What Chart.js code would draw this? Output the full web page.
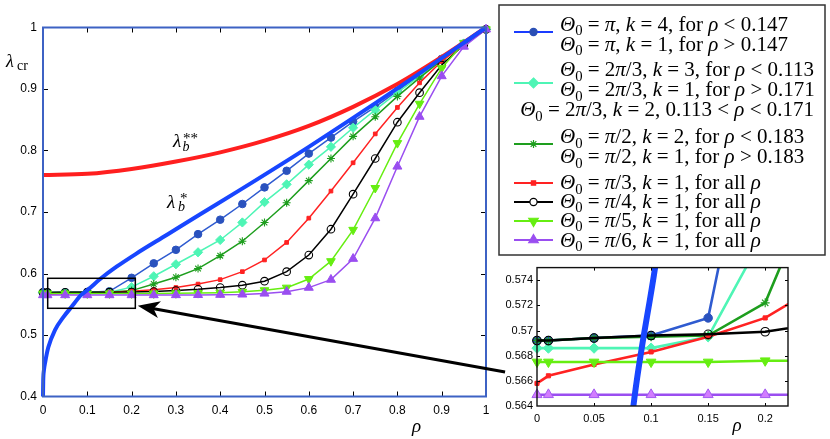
<!DOCTYPE html>
<html>
<head>
<meta charset="utf-8">
<script src="https://cdn.jsdelivr.net/npm/chart.js@4.4.1/dist/chart.umd.min.js"></script>
<style>
html,body{margin:0;padding:0;background:#fff;overflow:hidden;}
#wrap{position:relative;width:830px;height:439px;background:#fff;}
#main{position:absolute;left:0;top:0;}
#inset{position:absolute;left:495px;top:257px;}
</style>
</head>
<body>
<div id="wrap">
<canvas id="main" width="830" height="439" style="width:830px;height:439px"></canvas>
<canvas id="inset" width="335" height="182" style="width:335px;height:182px"></canvas>
</div>
<script>
// ---------------- data ----------------
const rho = [0,0.01,0.05,0.1,0.15,0.2,0.25,0.3,0.35,0.4,0.45,0.5,0.55,0.6,0.65,0.7,0.75,0.8,0.85,0.9,0.95,1.0];
const thetaPi   = [0.5692,0.5692,0.5694,0.5696,0.5710,0.5930,0.6165,0.6385,0.6640,0.6875,0.7130,0.7400,0.7670,0.7950,0.8210,0.8470,0.8710,0.8970,0.9230,0.9490,0.9740,0.9970];
const theta2Pi3 = [0.5686,0.5686,0.5686,0.5686,0.5695,0.5778,0.5955,0.6150,0.6345,0.6545,0.6830,0.7160,0.7450,0.7770,0.8060,0.8370,0.8660,0.8940,0.9210,0.9480,0.9740,0.9970];
const thetaPi2  = [0.5692,0.5692,0.5694,0.5695,0.5696,0.5722,0.5830,0.5940,0.6080,0.6290,0.6525,0.6830,0.7150,0.7510,0.7870,0.8230,0.8550,0.8880,0.9180,0.9470,0.9740,0.9970];
const thetaPi3  = [0.5658,0.5664,0.5673,0.5683,0.5695,0.5710,0.5737,0.5772,0.5828,0.5900,0.6030,0.6220,0.6505,0.6900,0.7340,0.7800,0.8270,0.8700,0.9100,0.9450,0.9730,0.9970];
const thetaPi4  = [0.5692,0.5692,0.5694,0.5696,0.5697,0.5699,0.5706,0.5722,0.5743,0.5772,0.5810,0.5875,0.6030,0.6300,0.6720,0.7290,0.7870,0.8460,0.8940,0.9390,0.9720,0.9970];
const thetaPi5  = [0.5675,0.5675,0.5675,0.5675,0.5675,0.5676,0.5676,0.5678,0.5681,0.5688,0.5702,0.5728,0.5770,0.5910,0.6200,0.6710,0.7390,0.8120,0.8760,0.9340,0.9750,0.9970];
const thetaPi6  = [0.5649,0.5649,0.5649,0.5649,0.5649,0.5649,0.5649,0.5650,0.5652,0.5655,0.5660,0.5675,0.5705,0.5770,0.5900,0.6240,0.6900,0.7740,0.8550,0.9210,0.9690,0.9970];

const lamStarRho = [0,0.0005,0.002,0.005,0.012,0.027,0.046,0.068,0.0845,0.1035,0.129,0.166,0.21,0.28,0.354,0.445,0.6,0.8,1.0];
const lamStar    = [0.400,0.425,0.442,0.456,0.480,0.508,0.529,0.549,0.564,0.575,0.591,0.611,0.632,0.663,0.696,0.736,0.806,0.901,1.000];
const lamStar2Rho = [0,0.1,0.2,0.3,0.4,0.5,0.6,0.7,0.8,0.9,1.0];
const lamStar2    = [0.760,0.762,0.770,0.782,0.797,0.816,0.840,0.871,0.908,0.952,1.000];

const xTicks = [0,0.1,0.2,0.3,0.4,0.5,0.6,0.7,0.8,0.9,1];
const xTickLabels = ['0','0.1','0.2','0.3','0.4','0.5','0.6','0.7','0.8','0.9','1'];
const yTicks = [0.4,0.5,0.6,0.7,0.8,0.9,1];
const yTickLabels = ['0.4','0.5','0.6','0.7','0.8','0.9','1'];
const inXTicks = [0,0.05,0.1,0.15,0.2];
const inXTickLabels = ['0','0.05','0.1','0.15','0.2'];
const inYTicks = [0.564,0.566,0.568,0.570,0.572,0.574];
const inYTickLabels = ['0.564','0.566','0.568','0.57','0.572','0.574'];

const legendText = [
  ['Θ_0 = π, k = 4, for ρ < 0.147', 'Θ_0 = π, k = 1, for ρ > 0.147'],
  ['Θ_0 = 2π/3, k = 3, for ρ < 0.113', 'Θ_0 = 2π/3, k = 1, for ρ > 0.171', 'Θ_0 = 2π/3, k = 2, 0.113 < ρ < 0.171'],
  ['Θ_0 = π/2, k = 2, for ρ < 0.183', 'Θ_0 = π/2, k = 1, for ρ > 0.183'],
  ['Θ_0 = π/3, k = 1, for all ρ'],
  ['Θ_0 = π/4, k = 1, for all ρ'],
  ['Θ_0 = π/5, k = 1, for all ρ'],
  ['Θ_0 = π/6, k = 1, for all ρ']
];

// ---------------- styles ----------------
const SANS = '"Liberation Sans", Arial, Helvetica, sans-serif';
const SERIF = '"Liberation Serif", "Times New Roman", serif';
const C = {
  pi:'#2f5bd0', piPt:'#2a52be', cyan:'#4ef5b5', green:'#1e9e1e', red:'#ff2222',
  black:'#000000', lime:'#66ee11', purple:'#9a4ef0', thickBlue:'#1846ff', thickRed:'#ff1f1f'
};
const styleDefs = [
  {key:'pi', ys:thetaPi, color:C.pi, pt:C.piPt, ps:'circle', r:3.8, rot:0, fill:C.piPt},
  {key:'c', ys:theta2Pi3, color:C.cyan, pt:C.cyan, ps:'rectRot', r:4.6, rot:0, fill:C.cyan},
  {key:'g', ys:thetaPi2, color:C.green, pt:C.green, ps:'star', r:4, rot:0, fill:C.green},
  {key:'r', ys:thetaPi3, color:C.red, pt:C.red, ps:'rect', r:2.6, rot:0, fill:C.red},
  {key:'k', ys:thetaPi4, color:C.black, pt:C.black, ps:'circle', r:3.8, rot:0, fill:'rgba(0,0,0,0)'},
  {key:'l', ys:thetaPi5, color:C.lime, pt:C.lime, ps:'triangle', r:5, rot:180, fill:C.lime},
  {key:'p', ys:thetaPi6, color:C.purple, pt:C.purple, ps:'triangle', r:5.2, rot:0, fill:C.purple}
];

function pts(xs, ys){ return xs.map((x,i)=>({x:x, y:ys[i]})); }

function buildDatasets(inset){
  const ds = [];
  ds.push({data:pts(lamStarRho, lamStar), borderColor:C.thickBlue, borderWidth: inset?6:4, pointRadius:0,
    cubicInterpolationMode:'monotone', fill:false, order:0, clip: inset?0:false});
  ds.push({data:pts(lamStar2Rho, lamStar2), borderColor:C.thickRed, borderWidth: inset?6:4, pointRadius:0,
    cubicInterpolationMode:'monotone', fill:false, order:1, clip: inset?0:false});
  const n = styleDefs.length;
  styleDefs.forEach((s, i)=>{
    let fill = s.fill, border = s.pt;
    if (inset && s.key==='p') { fill = '#d27cff'; border = '#a35cf0'; }
    ds.push({
      data: pts(rho, s.ys), borderColor: s.color, borderWidth: inset?2.6:1.5, tension:0, fill:false,
      pointStyle: s.ps, pointRadius: inset ? s.r*1.12 : s.r, pointRotation: s.rot,
      pointBackgroundColor: fill, pointBorderColor: border,
      pointBorderWidth: (s.key==='k'||s.key==='g') ? 1.1 : 1,
      pointHoverRadius: 0, order: 2 + (n-1-i),
      clip: inset ? {left:8, top:0, right:0, bottom:8} : false
    });
  });
  return ds;
}

// ---------------- rich text helpers ----------------
function fontFor(st, size){
  if (st==='n') return size+'px '+SERIF;
  if (st==='i') return 'italic '+size+'px '+SERIF;
  if (st==='sub'||st==='sup') return (size*0.7).toFixed(2)+'px '+SERIF;
  if (st==='isub'||st==='isup') return 'italic '+(size*0.7).toFixed(2)+'px '+SERIF;
  return size+'px '+SERIF;
}
function dyFor(st, size){
  if (st==='sub'||st==='isub') return size*0.22;
  if (st==='sup'||st==='isup') return -size*0.38;
  return 0;
}
const ITAL = 'Θπkρλb';
function parseMath(str){
  const segs = [];
  for (let i=0;i<str.length;i++){
    let ch = str[i], st = 'n';
    if (ch==='_'){ ch = str[++i]; st = ITAL.includes(ch)?'isub':'sub'; }
    else if (ch==='^'){ ch = str[++i]; st = ITAL.includes(ch)?'isup':'sup'; }
    else if (ITAL.includes(ch)) st = 'i';
    const last = segs[segs.length-1];
    if (last && last.st===st) last.t += ch; else segs.push({t:ch, st:st});
  }
  return segs;
}
function richWidth(ctx, str, size){
  let w = 0;
  for (const s of parseMath(str)){ ctx.font = fontFor(s.st,size); w += ctx.measureText(s.t).width; }
  return w;
}
function drawRich(ctx, str, x, y, size, align){
  const segs = parseMath(str);
  const w = richWidth(ctx, str, size);
  let cx = align==='right' ? x-w : (align==='center' ? x-w/2 : x);
  ctx.textAlign = 'left'; ctx.textBaseline = 'alphabetic';
  for (const s of segs){
    ctx.font = fontFor(s.st,size);
    ctx.fillText(s.t, cx, y + dyFor(s.st,size));
    cx += ctx.measureText(s.t).width;
  }
}
function drawMarker(ctx, ps, x, y, r, fill, stroke, lw, rot){
  ctx.save();
  ctx.translate(x,y);
  ctx.rotate((rot||0)*Math.PI/180);
  ctx.beginPath();
  if (ps==='circle'){ ctx.arc(0,0,r,0,Math.PI*2); }
  else if (ps==='rect'){ const s=r*Math.SQRT1_2; ctx.rect(-s,-s,2*s,2*s); }
  else if (ps==='rectRot'){ ctx.moveTo(0,-r); ctx.lineTo(r,0); ctx.lineTo(0,r); ctx.lineTo(-r,0); ctx.closePath(); }
  else if (ps==='triangle'){ for(let k=0;k<3;k++){ const a=k*2*Math.PI/3; const px=Math.sin(a)*r, py=-Math.cos(a)*r; if(k===0) ctx.moveTo(px,py); else ctx.lineTo(px,py);} ctx.closePath(); }
  else if (ps==='star'){ for(let k=0;k<4;k++){ const a=k*Math.PI/4; ctx.moveTo(Math.cos(a)*r,Math.sin(a)*r); ctx.lineTo(-Math.cos(a)*r,-Math.sin(a)*r);} }
  if (ps!=='star'){ ctx.fillStyle=fill; ctx.fill(); }
  ctx.strokeStyle=stroke; ctx.lineWidth=lw; ctx.stroke();
  ctx.restore();
}

// ---------------- annotation positions (data coordinates) ----------------
const zoomBox = {x0:0.0106, x1:0.2084, y0:0.5434, y1:0.5922};
const arrowTip = {x:0.214, y:0.5475};
const arrowTail = {x:1.043, y:0.4398};

const mainDecor = {
  id:'mainDecor',
  afterDraw(chart){
    const ctx = chart.ctx, a = chart.chartArea, xs = chart.scales.x, ys = chart.scales.y;
    ctx.save();
    // inward ticks
    ctx.strokeStyle = '#000'; ctx.lineWidth = 1;
    ctx.beginPath();
    xTicks.forEach(v=>{
      if (v<=0 || v>=1) return;
      const px = Math.round(xs.getPixelForValue(v))+0.5;
      ctx.moveTo(px, a.bottom); ctx.lineTo(px, a.bottom-5);
      ctx.moveTo(px, a.top); ctx.lineTo(px, a.top+5);
    });
    yTicks.forEach(v=>{
      if (v<=0.4 || v>=1) return;
      const py = Math.round(ys.getPixelForValue(v))+0.5;
      ctx.moveTo(a.left, py); ctx.lineTo(a.left+5, py);
      ctx.moveTo(a.right, py); ctx.lineTo(a.right-5, py);
    });
    ctx.stroke();
    // frame
    ctx.strokeStyle = '#3d62c4'; ctx.lineWidth = 2;
    ctx.strokeRect(a.left, a.top, a.right-a.left, a.bottom-a.top);

    // zoom box
    const bx0 = xs.getPixelForValue(zoomBox.x0), bx1 = xs.getPixelForValue(zoomBox.x1);
    const by0 = ys.getPixelForValue(zoomBox.y1), by1 = ys.getPixelForValue(zoomBox.y0);
    ctx.strokeStyle = '#000'; ctx.lineWidth = 1.5;
    ctx.strokeRect(bx0, by0, bx1-bx0, by1-by0);

    // arrow
    const tx = xs.getPixelForValue(arrowTip.x), ty = ys.getPixelForValue(arrowTip.y);
    const sx = xs.getPixelForValue(arrowTail.x), sy = ys.getPixelForValue(arrowTail.y);
    const dx = tx-sx, dy = ty-sy, len = Math.hypot(dx,dy);
    const ux = dx/len, uy = dy/len, nx = -uy, ny = ux;
    const L = 22, W = 8.5, notch = 6;
    ctx.strokeStyle = '#000'; ctx.lineWidth = 3.2; ctx.lineCap='butt';
    ctx.beginPath(); ctx.moveTo(sx,sy); ctx.lineTo(tx-ux*(L-notch-1), ty-uy*(L-notch-1)); ctx.stroke();
    ctx.fillStyle = '#000';
    ctx.beginPath();
    ctx.moveTo(tx,ty);
    ctx.lineTo(tx-ux*L+nx*W, ty-uy*L+ny*W);
    ctx.lineTo(tx-ux*(L-notch), ty-uy*(L-notch));
    ctx.lineTo(tx-ux*L-nx*W, ty-uy*L-ny*W);
    ctx.closePath(); ctx.fill();

    // curve labels
    ctx.fillStyle = '#000'; ctx.textAlign='left'; ctx.textBaseline='alphabetic';
    const l2x = xs.getPixelForValue(0.2935), l2y = ys.getPixelForValue(0.8057);
    ctx.font = 'italic 19px '+SERIF; ctx.fillText('λ', l2x, l2y);
    ctx.font = 'italic 14px '+SERIF; ctx.fillText('b', l2x+9.5, l2y+4);
    ctx.font = '15px '+SERIF; ctx.fillText('**', l2x+10, l2y-3.5);
    const l1x = xs.getPixelForValue(0.280), l1y = ys.getPixelForValue(0.7068);
    ctx.font = 'italic 19px '+SERIF; ctx.fillText('λ', l1x, l1y);
    ctx.font = 'italic 14px '+SERIF; ctx.fillText('b', l1x+11, l1y+3.5);
    ctx.font = '15px '+SERIF; ctx.fillText('*', l1x+13, l1y-5);

    // axis labels
    ctx.font = 'italic 18px '+SERIF; ctx.fillText('λ', 6, 67);
    ctx.font = '14px '+SERIF; ctx.fillText('cr', 17, 70);
    ctx.font = 'italic 19px '+SERIF; ctx.textAlign='center';
    ctx.fillText('ρ', (a.left+a.right)/2 + 152, 432);
    ctx.textAlign='left';

    // legend
    const LB = {x:499, y:5, w:326, h:250};
    ctx.fillStyle = '#fff'; ctx.fillRect(LB.x, LB.y, LB.w, LB.h);
    ctx.strokeStyle = '#333'; ctx.lineWidth = 1.5; ctx.strokeRect(LB.x, LB.y, LB.w, LB.h);
    let size = 19;
    const wRef = richWidth(ctx, legendText[1][0], size);
    size = Math.max(15, Math.min(21, size*258/wRef));
    const sampleY = [32, 83, 144, 183, 202, 221, 240];
    const baselines = [[30.7,50.7],[76,96,116],[143,163],[189.3],[207.7],[226.7],[246.7]];
    const textX = 560;
    const legendStyles = [
      {line:'#1a3cff', ps:'circle', r:3.6, fill:'#2a4fb5', stroke:'#2a4fb5', rot:0},
      {line:C.cyan, ps:'rectRot', r:5, fill:C.cyan, stroke:C.cyan, rot:0},
      {line:C.green, ps:'star', r:4, fill:C.green, stroke:C.green, rot:0},
      {line:C.red, ps:'rect', r:3, fill:C.red, stroke:C.red, rot:0},
      {line:'#000', ps:'circle', r:3.6, fill:'#fff', stroke:'#000', rot:0},
      {line:C.lime, ps:'triangle', r:5.5, fill:C.lime, stroke:C.lime, rot:180},
      {line:C.purple, ps:'triangle', r:5.5, fill:C.purple, stroke:C.purple, rot:0}
    ];
    legendText.forEach((lines, e)=>{
      const st = legendStyles[e];
      ctx.strokeStyle = st.line; ctx.lineWidth = 2;
      ctx.beginPath(); ctx.moveTo(514, sampleY[e]); ctx.lineTo(553, sampleY[e]); ctx.stroke();
      drawMarker(ctx, st.ps, 533.5, sampleY[e], st.r, st.fill, st.stroke, 1.2, st.rot);
      ctx.fillStyle = '#000';
      lines.forEach((t, j)=>{
        if (e===1 && j===2){
          const endX = textX + richWidth(ctx, lines[0], size);
          drawRich(ctx, t, endX, baselines[e][j], size, 'right');
        } else {
          drawRich(ctx, t, textX, baselines[e][j], size, 'left');
        }
      });
    });
    ctx.restore();
  }
};

const insetDecor = {
  id:'insetDecor',
  afterDraw(chart){
    const ctx = chart.ctx, a = chart.chartArea, xs = chart.scales.x, ys = chart.scales.y;
    ctx.save();
    ctx.strokeStyle = '#000'; ctx.lineWidth = 1;
    ctx.beginPath();
    inXTicks.forEach(v=>{
      if (v<=0) return;
      const px = Math.round(xs.getPixelForValue(v))+0.5;
      ctx.moveTo(px, a.bottom); ctx.lineTo(px, a.bottom-3);
      ctx.moveTo(px, a.top); ctx.lineTo(px, a.top+3);
    });
    inYTicks.forEach(v=>{
      if (v<=0.564) return;
      const py = Math.round(ys.getPixelForValue(v))+0.5;
      ctx.moveTo(a.left, py); ctx.lineTo(a.left+3, py);
      ctx.moveTo(a.right, py); ctx.lineTo(a.right-3, py);
    });
    ctx.stroke();
    ctx.strokeStyle = '#111'; ctx.lineWidth = 1.4;
    ctx.strokeRect(a.left, a.top, a.right-a.left, a.bottom-a.top);
    ctx.fillStyle = '#000';
    ctx.font = 'italic 19px '+SERIF; ctx.textAlign='center'; ctx.textBaseline='alphabetic';
    ctx.fillText('ρ', a.left + 200, 174);
    ctx.restore();
  }
};

function axisOpts(ticksArr, labels, min, max, fitFn, pad, fontSize){
  return {
    type:'linear', min:min, max:max,
    afterBuildTicks: s => { s.ticks = ticksArr.map(v=>({value:v})); },
    afterFit: fitFn,
    grid:{display:false, drawTicks:false}, border:{display:false},
    ticks:{autoSkip:false, maxRotation:0, minRotation:0, padding:pad, color:'#000',
      font:{family:SANS, size:fontSize}, callback:(v,i)=>labels[i]}
  };
}

new Chart(document.getElementById('main'), {
  type:'line',
  data:{datasets: buildDatasets(false)},
  options:{
    responsive:false, animation:false, devicePixelRatio:1,
    layout:{padding:{left:0, top:27.5, right:344, bottom:0}},
    plugins:{legend:{display:false}, tooltip:{enabled:false}},
    scales:{
      x: axisOpts(xTicks, xTickLabels, 0, 1, s=>{ s.height = 42.5; }, 7, 12),
      y: axisOpts(yTicks, yTickLabels, 0.4, 1, s=>{ s.width = 43; }, 6, 12)
    }
  },
  plugins:[mainDecor]
});

new Chart(document.getElementById('inset'), {
  type:'line',
  data:{datasets: buildDatasets(true)},
  options:{
    responsive:false, animation:false, devicePixelRatio:1,
    layout:{padding:{left:0, top:5, right:42, bottom:0}},
    plugins:{legend:{display:false}, tooltip:{enabled:false}},
    scales:{
      x: axisOpts(inXTicks, inXTickLabels, 0, 0.22, s=>{ s.height = 33; }, 6, 11),
      y: axisOpts(inYTicks, inYTickLabels, 0.564, 0.575, s=>{ s.width = 42; }, 4, 11)
    }
  },
  plugins:[insetDecor]
});
</script>
</body>
</html>
